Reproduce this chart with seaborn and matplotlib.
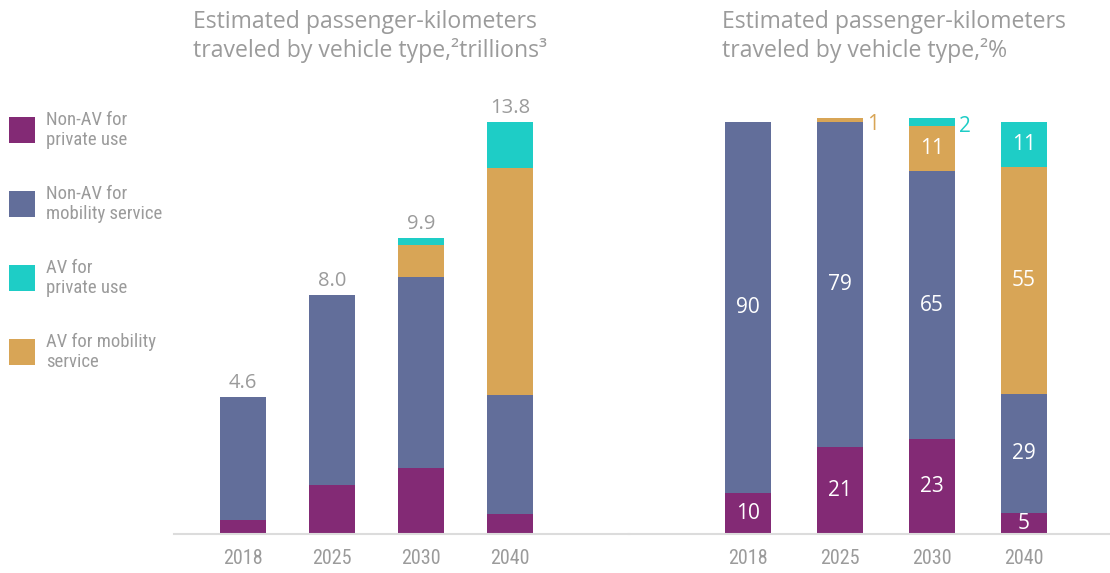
import matplotlib
matplotlib.use("Agg")
import matplotlib.pyplot as plt
from matplotlib import font_manager
from matplotlib.patches import Rectangle
import seaborn as sns

# ---- data -------------------------------------------------------------
years = ["2018", "2025", "2030", "2040"]
series_names = [
    "Non-AV for\nprivate use",
    "Non-AV for\nmobility service",
    "AV for\nprivate use",
    "AV for mobility\nservice",
]

# passenger-kilometers, trillions (stack order: bottom -> top)
pkm_nonav_private = [0.46, 1.65, 2.20, 0.67]
pkm_nonav_mobility = [4.14, 6.35, 6.40, 4.00]
pkm_av_mobility = [0.0, 0.0, 1.07, 7.60]
pkm_av_private = [0.0, 0.0, 0.23, 1.53]

# share of passenger-kilometers, %
pct_nonav_private = [10, 21, 23, 5]
pct_nonav_mobility = [90, 79, 65, 29]
pct_av_mobility = [0, 1, 11, 55]
pct_av_private = [0, 0, 2, 11]

# ---- style ------------------------------------------------------------
PURPLE = "#832A75"
BLUE = "#626E9A"
TEAL = "#1ECDC6"
ORANGE = "#D8A556"
GREY = "#9B9B9B"
AXIS = "#DCDCDC"

sns.set_style("white")


def pick_font(candidates):
    names = {f.name for f in font_manager.fontManager.ttflist}
    for c in candidates:
        if c in names:
            return c
    return "DejaVu Sans"


MAIN_FONT = pick_font(["Open Sans", "Noto Sans", "DejaVu Sans"])
NARROW_FONT = pick_font(["Liberation Sans Narrow", "Roboto Condensed", "Roboto"])
plt.rcParams["font.family"] = [MAIN_FONT, "DejaVu Sans"]

W, H = 1110, 573
fig = plt.figure(figsize=(W / 100, H / 100), dpi=100)


def fx(px):
    return px / W


def fy(py):
    return 1 - py / H


# panels share one baseline
base_y = 534
top_y = 100
ax_l = fig.add_axes([fx(174), fy(base_y), fx(629 - 174), (base_y - top_y) / H])
ax_r = fig.add_axes([fx(629), fy(base_y), fx(W - 629), (base_y - top_y) / H])

layer_colors = [PURPLE, BLUE, ORANGE, TEAL]
left_layers = [pkm_nonav_private, pkm_nonav_mobility, pkm_av_mobility, pkm_av_private]
right_layers = [pct_nonav_private, pct_nonav_mobility, pct_av_mobility, pct_av_private]


def stacked_bars(ax, layers, width):
    bottom = [0.0] * len(years)
    spans = []
    for vals, color in zip(layers, layer_colors):
        sns.barplot(x=years, y=vals, bottom=bottom, color=color, saturation=1,
                    width=width, errorbar=None, linewidth=0, ax=ax)
        spans.append([(b, v) for b, v in zip(bottom, vals)])
        bottom = [b + v for b, v in zip(bottom, vals)]
    return spans, bottom


# left: absolute volumes with totals above the bars
_, totals = stacked_bars(ax_l, left_layers, 0.517)
for i, t in enumerate(totals):
    ax_l.annotate(f"{t:.1f}", (i, t), xytext=(0, 6.5), textcoords="offset points",
                  ha="center", va="baseline", fontsize=14.5, color=GREY)

# right: shares with segment labels
spans, _ = stacked_bars(ax_r, right_layers, 0.5)
for layer, color in zip(spans, layer_colors):
    for i, (b, v) in enumerate(layer):
        if v >= 5:
            ax_r.text(i, b + v / 2, f"{v:g}", ha="center", va="center",
                      fontsize=15, color="white")
        elif v > 0:
            ax_r.annotate(f"{v:g}", (i + 0.25, b + v / 2), xytext=(3, -3.5),
                          textcoords="offset points", ha="left", va="center",
                          fontsize=15, color=color)

for ax, xl, yl in [(ax_l, (-0.775, 4.337), (0, 14.54)), (ax_r, (-1.293, 3.935), (0, 105.3))]:
    ax.set_xlim(*xl)
    ax.set_ylim(*yl)
    ax.set_xticks(range(len(years)))
    ax.set_xticklabels(years, fontsize=14.5, color=GREY, family=NARROW_FONT)
    ax.set_yticks([])
    ax.set_xlabel("")
    ax.set_ylabel("")
    ax.tick_params(axis="x", length=0, pad=11)
    for side in ["top", "left", "right"]:
        ax.spines[side].set_visible(False)
    ax.spines["bottom"].set_color(AXIS)
    ax.spines["bottom"].set_linewidth(1.5)
    ax.set_facecolor("none")

# panel titles
title_kw = dict(fontsize=16.6, color=GREY, va="baseline", ha="left")
fig.text(fx(193), fy(28), "Estimated passenger-kilometers", **title_kw)
fig.text(fx(193), fy(57), "traveled by vehicle type,\u00b2trillions\u00b3", **title_kw)
fig.text(fx(722), fy(28), "Estimated passenger-kilometers", **title_kw)
fig.text(fx(722), fy(57), "traveled by vehicle type,\u00b2%", **title_kw)

# legend
legend_colors = [PURPLE, BLUE, TEAL, ORANGE]
for k, (name, color) in enumerate(zip(series_names, legend_colors)):
    top = 117 + 74 * k
    fig.patches.append(Rectangle((fx(9), fy(top + 26)), fx(26), 26 / H,
                                 transform=fig.transFigure, facecolor=color,
                                 edgecolor="none"))
    fig.text(fx(46), fy(top + 13), name, ha="left", va="center", fontsize=13.5,
             color=GREY, family=NARROW_FONT, linespacing=1.1)

fig.savefig("out.png", dpi=100)
